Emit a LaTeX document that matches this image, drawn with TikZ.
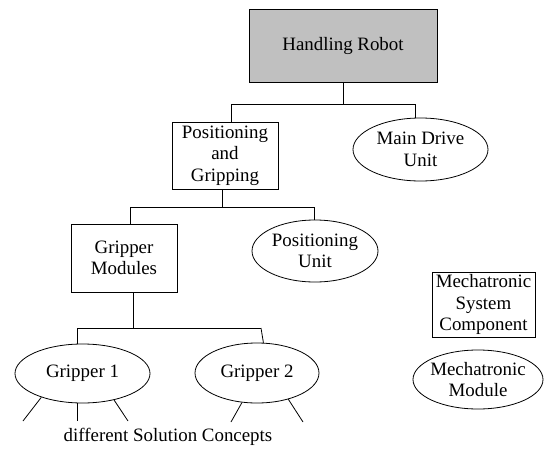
\documentclass[tikz,border=0pt]{standalone}
\usepackage{fontspec}
\setmainfont{Liberation Serif}
\usetikzlibrary{shapes.geometric}
\definecolor{robotgray}{HTML}{C0C0C0}
\begin{document}
\begin{tikzpicture}[x=1pt,y=-1pt,
  every node/.style={font=\fontsize{18.9}{21.5}\selectfont, align=center, inner sep=0pt},
  boxnode/.style={draw, line width=0.8pt, rectangle},
  ellnode/.style={draw, line width=0.8pt, ellipse},
  conn/.style={line width=0.8pt}]
\useasboundingbox (0,0) rectangle (544,450);
% nodes
\node[boxnode, fill=robotgray, minimum width=188pt, minimum height=73pt] (HR) at (343,45.5) {Handling Robot};
\node[boxnode, minimum width=106pt, minimum height=67pt] (PG) at (225,155.5) {Positioning\\and\\Gripping};
\node[ellnode, minimum width=135pt, minimum height=63pt] (MDU) at (420.5,149.5) {Main Drive\\Unit};
\node[boxnode, minimum width=106pt, minimum height=68pt] (GM) at (124,258) {Gripper\\Modules};
\node[ellnode, minimum width=126pt, minimum height=62pt] (PU) at (315,251) {Positioning\\Unit};
\node[ellnode, minimum width=135pt, minimum height=59pt] (G1) at (82.5,373.5) {Gripper 1};
\node[ellnode, minimum width=124pt, minimum height=60pt] (G2) at (257,373) {Gripper 2};
\node[boxnode, minimum width=103pt, minimum height=65pt] (MSC) at (483.5,304.5) {Mechatronic\\System\\Component};
\node[ellnode, inner xsep=-3pt, minimum width=130pt, minimum height=59pt] (MM) at (478,379.5) {Mechatronic\\Module};
\node (SOL) at (168,437) {different Solution Concepts};
% junctions
\coordinate (j1) at (343,104);
\coordinate (j1l) at (231,104);
\coordinate (j1r) at (415,104);
\coordinate (j2) at (222,207);
\coordinate (j2l) at (130,207);
\coordinate (j2r) at (314,207);
\coordinate (j3) at (133,328);
\coordinate (j3l) at (77,328);
\coordinate (j3r) at (261,328);
\coordinate (g1a) at (23,421);
\coordinate (g1b) at (77,421);
\coordinate (g1c) at (128,421);
\coordinate (g2a) at (231,422);
\coordinate (g2b) at (303,422);
% connectors
\draw[conn] (HR.south) -- (j1);
\draw[conn] (j1l) -- (j1r);
\draw[conn] (j1l) -- (j1l |- PG.north);
\draw[conn] (j1r) -- (j1r |- MDU.north);
\draw[conn] (j2 |- PG.south) -- (j2);
\draw[conn] (j2l) -- (j2r);
\draw[conn] (j2l) -- (j2l |- GM.north);
\draw[conn] (j2r) -- (j2r |- PU.north);
\draw[conn] (j3 |- GM.south) -- (j3);
\draw[conn] (j3l) -- (j3r);
\draw[conn] (j3l) -- (j3l |- G1.north);
\draw[conn] (j3r) -- (G2.78);
\draw[conn] (G1.210) -- (g1a);
\draw[conn] (g1b |- G1.south) -- (g1b);
\draw[conn] (G1.320) -- (g1c);
\draw[conn] (G2.243) -- (g2a);
\draw[conn] (G2.320) -- (g2b);
\end{tikzpicture}
\end{document}
